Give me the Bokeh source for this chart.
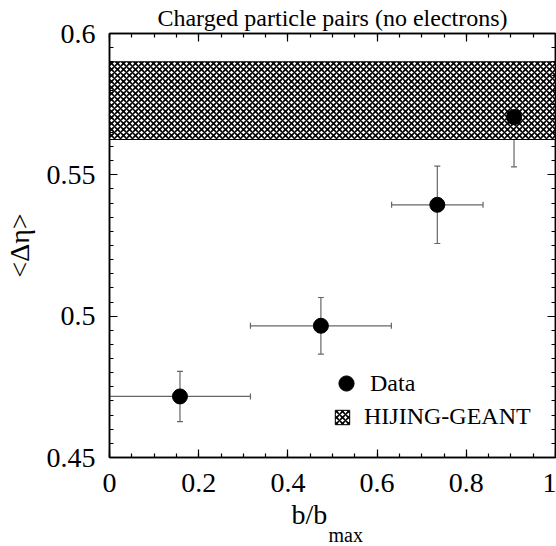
from bokeh.plotting import figure
from bokeh.models import (ColumnDataSource, Whisker, TeeHead, LinearAxis, Title,
                          FixedTicker, CustomJSTickFormatter, Legend, LegendItem, Range1d)
from bokeh.embed import file_html
from bokeh.resources import INLINE
import numpy as np

# ---- data ----
b_center = [0.158, 0.474, 0.735, 0.907]
b_err = [0.158, 0.158, 0.1025, 0.068]
deta = [0.4716, 0.4966, 0.5394, 0.5704]
deta_err = [0.0089, 0.0100, 0.0137, 0.0176]

band_low = 0.5625
band_high = 0.590

x_ticks = [0, 0.2, 0.4, 0.6, 0.8, 1.0]
y_ticks = [0.45, 0.5, 0.55, 0.6]

title_text = "Charged particle pairs (no electrons)"
y_label = "<\u0394\u03b7>"
x_label_main = "b/b"
x_label_sub = "max"

FONT = "Liberation Serif"

p = figure(width=556, height=546, output_backend="svg", toolbar_location=None,
           x_range=Range1d(0, 1), y_range=Range1d(0.45, 0.6),
           min_border_left=107, min_border_right=1, min_border_top=33, min_border_bottom=89)
p.xaxis.visible = False
p.yaxis.visible = False
p.grid.visible = False
p.outline_line_color = "black"
p.outline_line_width = 1.5
p.background_fill_color = "white"
p.border_fill_color = "white"

fmt = CustomJSTickFormatter(code="return String(parseFloat(tick.toFixed(3)));")
x_minor = list(np.round(np.arange(0, 1.0001, 0.05), 4))
y_minor = list(np.round(np.arange(0.45, 0.6001, 0.005), 4))

def style_axis(ax, ticks, minor, show_labels, standoff=10):
    ax.ticker = FixedTicker(ticks=ticks, minor_ticks=minor)
    ax.formatter = fmt
    ax.major_tick_in = 8
    ax.major_tick_out = 0
    ax.minor_tick_in = 4
    ax.minor_tick_out = 0
    ax.major_tick_line_color = "black"
    ax.minor_tick_line_color = "black"
    ax.axis_line_color = "black"
    ax.axis_line_width = 1.5
    ax.major_tick_line_width = 1.2
    ax.minor_tick_line_width = 1.2
    ax.major_label_text_font = FONT
    ax.major_label_text_color = "black"
    if show_labels:
        ax.major_label_text_font_size = "28px"
        ax.major_label_standoff = standoff
    else:
        ax.major_label_text_font_size = "1px"
        ax.major_label_text_alpha = 0
        ax.major_label_standoff = 0

xb = LinearAxis(); style_axis(xb, x_ticks, x_minor, True, standoff=16)
yl = LinearAxis(); style_axis(yl, y_ticks, y_minor, True, standoff=14)
xt = LinearAxis(); style_axis(xt, x_ticks, x_minor, False)
yr = LinearAxis(); style_axis(yr, y_ticks, y_minor, False)
yl.axis_label = y_label
yl.axis_label_text_font = FONT
yl.axis_label_text_font_size = "28px"
yl.axis_label_text_font_style = "normal"
yl.axis_label_text_color = "black"
yl.axis_label_standoff = 9
p.add_layout(xb, "below")
p.add_layout(yl, "left")
p.add_layout(xt, "above")
p.add_layout(yr, "right")

# ---- title ----
p.title.text = title_text
p.title.align = "center"
p.title.text_font = FONT
p.title.text_font_size = "24px"
p.title.text_font_style = "normal"
p.title.text_color = "black"
p.title.standoff = 5

# ---- x axis label b/b_max as two titles below ----
t_main = Title(text=x_label_main, align="left", offset=182, standoff=5,
               text_font=FONT, text_font_size="28px", text_font_style="normal",
               text_color="black")
t_sub = Title(text=x_label_sub, align="left", offset=219, standoff=-21,
              text_font=FONT, text_font_size="20px", text_font_style="normal",
              text_color="black")
p.add_layout(t_main, "below")
p.add_layout(t_sub, "below")

# ---- band ----
band = p.quad(left=[0], right=[1], bottom=[band_low], top=[band_high],
              fill_color="white", line_color="black", line_width=1,
              hatch_pattern="diagonal_cross", hatch_color="black",
              hatch_scale=6, hatch_weight=1.6)

# ---- error bars ----
src = ColumnDataSource(dict(
    x=b_center, y=deta,
    xl=[c - e for c, e in zip(b_center, b_err)], xh=[c + e for c, e in zip(b_center, b_err)],
    yl=[c - e for c, e in zip(deta, deta_err)], yh=[c + e for c, e in zip(deta, deta_err)],
))
ecol = "#666666"
wy = Whisker(base="x", lower="yl", upper="yh", source=src, dimension="height",
             line_color=ecol, line_width=1.2,
             upper_head=TeeHead(size=6, line_color=ecol, line_width=1.2),
             lower_head=TeeHead(size=6, line_color=ecol, line_width=1.2))
wx = Whisker(base="y", lower="xl", upper="xh", source=src, dimension="width",
             line_color=ecol, line_width=1.2,
             upper_head=TeeHead(size=6, line_color=ecol, line_width=1.2),
             lower_head=TeeHead(size=6, line_color=ecol, line_width=1.2))
p.add_layout(wy)
p.add_layout(wx)

pts = p.scatter(x="x", y="y", source=src, size=15, marker="circle",
                fill_color="black", line_color="black")

# ---- legends ----
leg_a = Legend(items=[LegendItem(label="Data", renderers=[pts])],
               location=(218, 55), border_line_color=None, background_fill_alpha=0,
               label_text_font=FONT, label_text_font_size="24px", label_text_color="black",
               glyph_width=38, glyph_height=38, label_standoff=5,
               padding=0, margin=0, label_height=20)
leg_b = Legend(items=[LegendItem(label="HIJING-GEANT", renderers=[band])],
               location=(224, 27), border_line_color=None, background_fill_alpha=0,
               label_text_font=FONT, label_text_font_size="24px", label_text_color="black",
               glyph_width=18, glyph_height=18, label_standoff=13,
               padding=0, margin=0, label_height=18)
p.add_layout(leg_a)
p.add_layout(leg_b)

open("out.html", "w").write(file_html(p, INLINE))
